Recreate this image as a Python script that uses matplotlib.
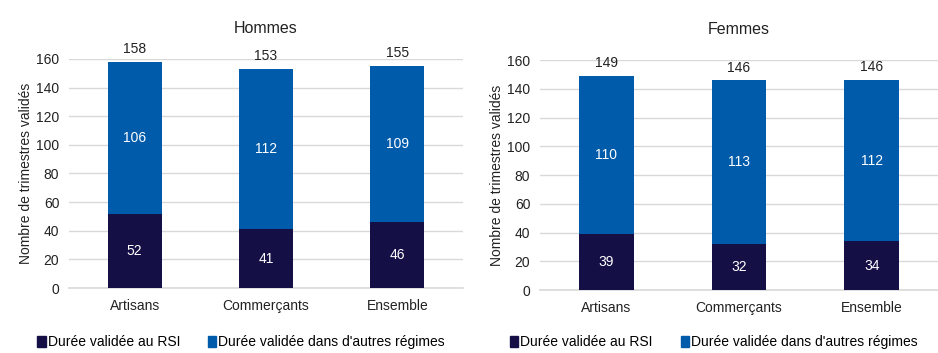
import matplotlib

matplotlib.use("Agg")
import matplotlib.pyplot as plt
from matplotlib.patches import Patch

plt.rcParams["font.family"] = ["Liberation Sans", "DejaVu Sans"]

CATEGORIES = ["Artisans", "Commerçants", "Ensemble"]
HOMMES_RSI = [52, 41, 46]
HOMMES_AUTRES = [106, 112, 109]
FEMMES_RSI = [39, 32.4, 34]
FEMMES_AUTRES = [110, 113.4, 112]
YTICKS = [0, 20, 40, 60, 80, 100, 120, 140, 160]

DARK = "#141046"
BLUE = "#005BAA"
GRID = "#d9d9d9"
TEXT = "#222222"
LABEL_RSI = "Durée validée au RSI"
LABEL_AUTRES = "Durée validée dans d'autres régimes"
FS = 10


def panel(fig, rect, title, rsi, autres, legend_x):
    ax = fig.add_axes(rect)
    x = range(len(CATEGORIES))
    ax.bar(x, rsi, width=0.41, color=DARK, zorder=3)
    ax.bar(x, autres, width=0.41, bottom=rsi, color=BLUE, zorder=3)
    for i, (a, b) in enumerate(zip(rsi, autres)):
        ax.text(i, a / 2, f"{a:.0f}", ha="center", va="center", color="white", fontsize=FS)
        ax.text(i, a + b / 2, f"{b:.0f}", ha="center", va="center", color="white", fontsize=FS)
        ax.text(i, a + b + 4, f"{a + b:.0f}", ha="center", va="bottom", color=TEXT,
                fontsize=FS, clip_on=False)
    ax.set_xlim(-0.5, 2.5)
    ax.set_ylim(0, 160)
    ax.set_yticks(YTICKS)
    ax.set_xticks(list(x))
    ax.set_xticklabels(CATEGORIES)
    ax.tick_params(length=0, labelsize=FS, colors=TEXT)
    ax.tick_params(axis="x", pad=8)
    ax.tick_params(axis="y", pad=7)
    ax.grid(axis="y", color=GRID, lw=1, zorder=0)
    for s in ["top", "right", "left"]:
        ax.spines[s].set_visible(False)
    ax.spines["bottom"].set_color(GRID)
    ax.spines["bottom"].set_linewidth(1.2)
    ax.set_ylabel("Nombre de trimestres validés", fontsize=FS, color=TEXT, labelpad=2)
    ax.set_title(title, fontsize=11.5, color=TEXT, pad=19)
    handles = [Patch(color=DARK, label=LABEL_RSI), Patch(color=BLUE, label=LABEL_AUTRES)]
    fig.legend(handles=handles, loc="center", bbox_to_anchor=(legend_x, 0.03), ncol=2,
               frameon=False, fontsize=FS, handlelength=0.6, handleheight=0.9,
               handletextpad=0.15, columnspacing=2.0)
    return ax


fig = plt.figure(figsize=(9.38, 3.53), dpi=100)
panel(fig, [0.0736, 0.184, 0.42, 0.649], "Hommes", HOMMES_RSI, HOMMES_AUTRES, 0.257)
panel(fig, [0.5757, 0.178, 0.4243, 0.652], "Femmes", FEMMES_RSI, FEMMES_AUTRES, 0.761)
fig.savefig("out.png", dpi=100)
